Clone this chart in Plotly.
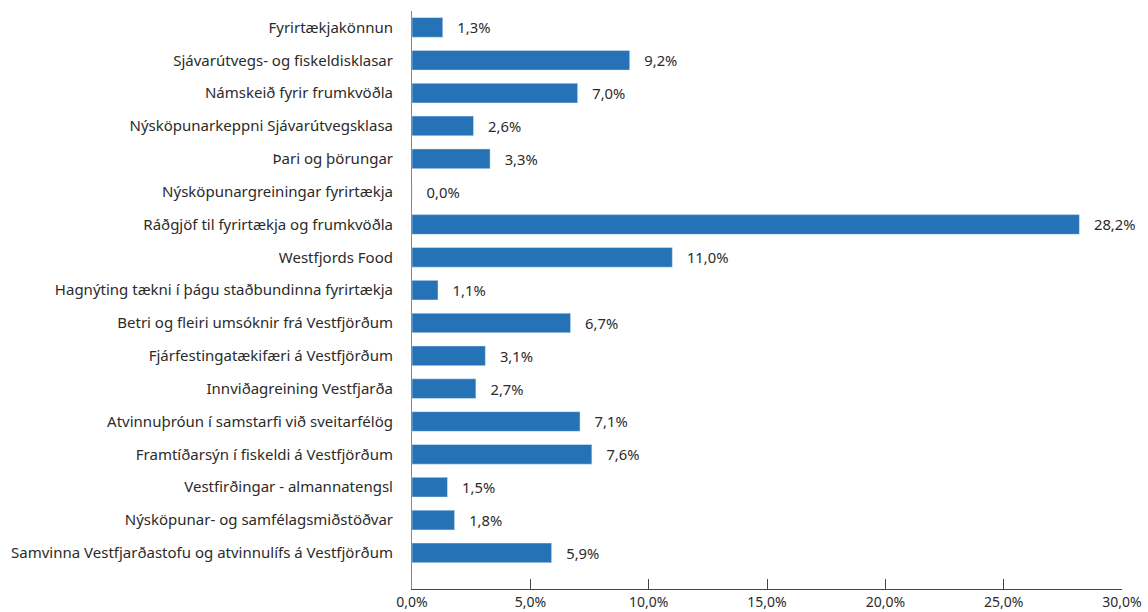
import plotly.graph_objects as go

categories = [
    "Fyrirtækjakönnun",
    "Sjávarútvegs- og fiskeldisklasar",
    "Námskeið fyrir frumkvöðla",
    "Nýsköpunarkeppni Sjávarútvegsklasa",
    "Þari og þörungar",
    "Nýsköpunargreiningar fyrirtækja",
    "Ráðgjöf til fyrirtækja og frumkvöðla",
    "Westfjords Food",
    "Hagnýting tækni í þágu staðbundinna fyrirtækja",
    "Betri og fleiri umsóknir frá Vestfjörðum",
    "Fjárfestingatækifæri á Vestfjörðum",
    "Innviðagreining Vestfjarða",
    "Atvinnuþróun í samstarfi við sveitarfélög",
    "Framtíðarsýn í fiskeldi á Vestfjörðum",
    "Vestfirðingar - almannatengsl",
    "Nýsköpunar- og samfélagsmiðstöðvar",
    "Samvinna Vestfjarðastofu og atvinnulífs á Vestfjörðum",
]
values = [1.3, 9.2, 7.0, 2.6, 3.3, 0.0, 28.2, 11.0, 1.1, 6.7, 3.1, 2.7, 7.1, 7.6, 1.5, 1.8, 5.9]
tick_values = [0, 5, 10, 15, 20, 25, 30]
tick_labels = ["0,0%", "5,0%", "10,0%", "15,0%", "20,0%", "25,0%", "30,0%"]

labels = ["   " + f"{v:.1f}".replace(".", ",") + "%" for v in values]

FONT = "Noto Sans, Open Sans, sans-serif"

fig = go.Figure(go.Bar(
    x=values,
    y=categories,
    orientation="h",
    marker=dict(color="#2572b6"),
    text=labels,
    textposition="outside",
    cliponaxis=False,
    textfont=dict(size=15, color="#2b2b2b", family=FONT),
    width=0.6,
))

fig.update_layout(
    width=1148, height=612,
    margin=dict(l=412, r=26, t=11, b=23, autoexpand=False),
    paper_bgcolor="white", plot_bgcolor="white",
    font=dict(family=FONT, size=15, color="#2b2b2b"),
    showlegend=False,
    bargap=0.4,
)
fig.update_xaxes(
    range=[0, 30], tickvals=tick_values, ticktext=tick_labels,
    showgrid=False, zeroline=False, automargin=False,
    showline=True, linecolor="#444444", linewidth=1,
    ticks="inside", ticklen=10, tickcolor="#444444",
    tickfont=dict(size=14, color="#2b2b2b"),
)
fig.update_yaxes(
    categoryorder="array", categoryarray=categories,
    range=[17.1, -0.5], automargin=False,
    showgrid=False, zeroline=False,
    showline=True, linecolor="#888888", linewidth=1,
    ticks="", ticklabelstandoff=15,
    tickfont=dict(size=15, color="#2b2b2b"),
)

fig.write_html(
    "out.html",
    config={"displayModeBar": False},
    post_script="document.body.style.margin='0';document.body.style.padding='0';",
)
